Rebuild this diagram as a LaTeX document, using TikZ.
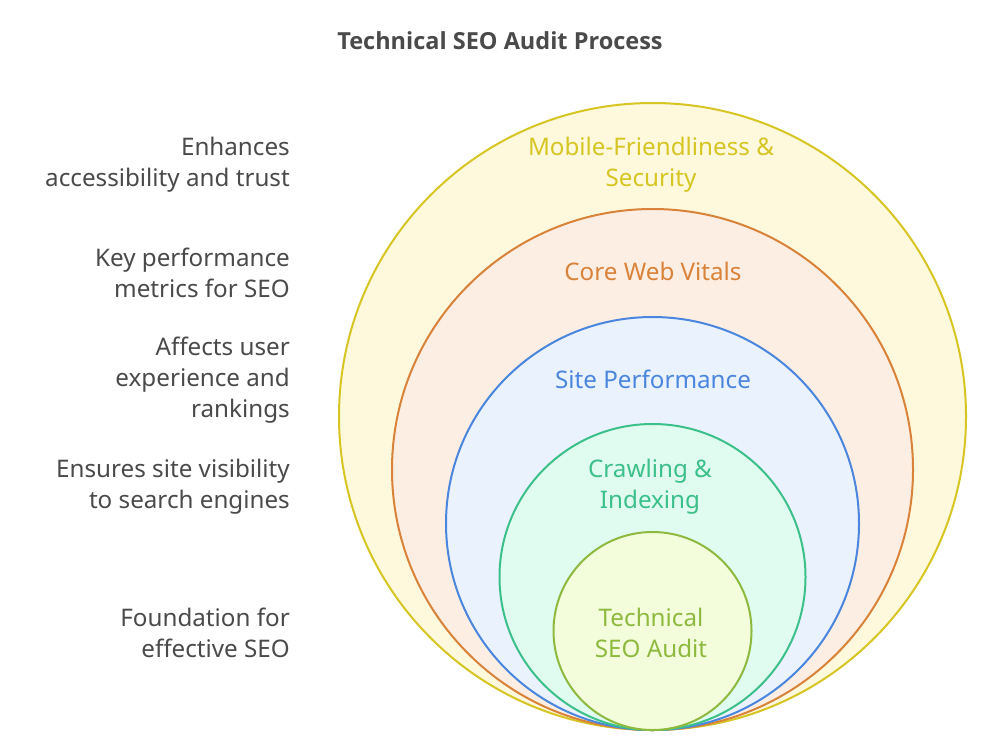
\documentclass[tikz,border=0pt]{standalone}
\usepackage{fontspec}
\setmainfont{Noto Sans}
\newfontfamily\titlefont{Open Sans}
\definecolor{yS}{HTML}{D6C522}
\definecolor{yF}{HTML}{FEF9DC}
\definecolor{oS}{HTML}{D9823A}
\definecolor{oF}{HTML}{FDEEE3}
\definecolor{bS}{HTML}{4A86DE}
\definecolor{bF}{HTML}{EAF2FE}
\definecolor{gS}{HTML}{3CC08A}
\definecolor{gF}{HTML}{E0FBF0}
\definecolor{lS}{HTML}{8DBA3E}
\definecolor{lF}{HTML}{F3FDDC}
\definecolor{txt}{HTML}{4A4A4A}
\tikzset{
  ring/.style={circle, inner sep=0pt, line width=2pt},
  lab/.style={align=center, inner sep=0pt, font=\fontsize{24.2}{31}\selectfont},
  note/.style={align=right, anchor=east, inner sep=0pt, text=txt, font=\fontsize{24.2}{31}\selectfont},
}
\begin{document}
\begin{tikzpicture}[x=1pt,y=-1pt]
\useasboundingbox (0,0) rectangle (1000,750);
\fill[white] (0,0) rectangle (1000,750);
\node[ring, draw=yS, fill=yF, minimum size=627pt] (c1) at (652.5,416.5) {};
\node[ring, draw=oS, fill=oF, minimum size=521pt] (c2) at (652.5,469.5) {};
\node[ring, draw=bS, fill=bF, minimum size=413pt] (c3) at (652.5,523.5) {};
\node[ring, draw=gS, fill=gF, minimum size=306pt] (c4) at (652.5,577) {};
\node[ring, draw=lS, fill=lF, minimum size=198pt] (c5) at (652.5,631) {};

\node[font=\titlefont\bfseries\fontsize{23.5}{26}\selectfont, text=txt] (title) at (500,41) {Technical SEO Audit Process};

\node[lab, text=yS] (t1) at (651,165) {Mobile-Friendliness \&\\Security};
\node[lab, text=oS] (t2) at (653,271) {Core Web Vitals};
\node[lab, text=bS] (t3) at (653,379) {Site Performance};
\node[lab, text=gS] (t4) at (650,487) {Crawling \&\\Indexing};
\node[lab, text=lS] (t5) at (651,633) {Technical\\SEO Audit};

\node[note] (n1) at (290,165) {Enhances\\accessibility and trust};
\node[note] (n2) at (290,273) {Key performance\\metrics for SEO};
\node[note] (n3) at (290,380) {Affects user\\experience and\\rankings};
\node[note] (n4) at (290,487) {Ensures site visibility\\to search engines};
\node[note] (n5) at (290,633) {Foundation for\\effective SEO};
\end{tikzpicture}
\end{document}
